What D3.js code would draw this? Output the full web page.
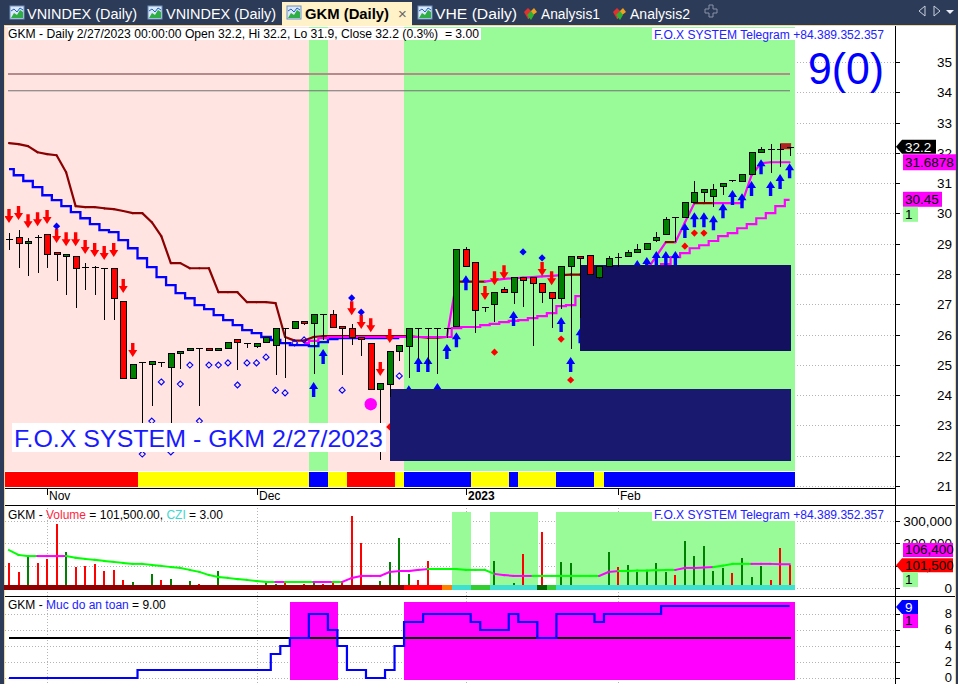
<!DOCTYPE html>
<html>
<head>
<meta charset="utf-8">
<script src="https://cdn.jsdelivr.net/npm/d3@7/dist/d3.min.js"></script>
<style>
html,body{margin:0;padding:0;background:#2c3b58;overflow:hidden;}
svg{display:block;}
text{font-family:"Liberation Sans",Arial,sans-serif;white-space:pre;}
</style>
</head>
<body>
<svg id="chart" width="958" height="684"></svg>
<script>
// ================= DATA =================
const opens = [29.15,29.22,29.02,29.22,29.32,28.73,28.59,28.59,28.23,28.23,
 28.20,28.20,27.11,24.57,25.09,25.03,25.09,24.93,25.39,25.49,
 25.56,25.56,25.49,25.56,25.85,25.72,25.62,25.75,25.66,26.22,
 26.22,26.45,26.38,26.68,26.68,26.28,26.22,25.92,25.72,24.20,
 24.37,25.46,25.62,26.22,26.22,26.22,26.22,26.28,28.82,28.40,
 26.91,27.01,27.50,27.40,27.90,27.90,27.70,27.40,27.21,28.26,
 28.59,28.63,27.90,28.26,28.56,28.59,28.73,28.82,29.12,29.32,
 29.88,29.88,30.38,30.71,30.57,30.90,31.10,31.07,31.30,32.03,
 32.13,32.13,32.20];
const highs = [29.35,29.45,29.19,29.29,29.32,28.73,28.66,28.59,28.36,28.26,
 28.20,28.20,27.11,25.03,25.09,25.13,25.09,25.39,25.46,25.56,
 25.56,25.56,25.56,25.75,25.85,25.72,25.72,25.92,26.22,26.22,
 26.45,26.45,26.68,26.68,26.81,26.28,26.35,25.92,25.72,24.40,
 25.46,25.66,26.22,26.22,26.22,26.22,26.22,28.82,28.89,28.40,
 26.91,27.40,27.57,27.90,27.90,27.90,27.70,27.40,28.26,28.59,
 28.59,28.63,28.26,28.59,28.69,28.80,28.99,29.02,29.39,29.88,
 29.88,30.38,31.07,30.81,30.97,31.00,31.10,31.30,32.03,32.19,
 32.29,32.29,32.20];
const lows = [28.79,28.20,27.93,28.03,28.20,27.77,27.31,26.88,27.47,27.31,
 26.48,26.48,24.57,24.57,22.55,23.64,24.93,22.62,24.86,25.49,
 23.64,25.49,25.49,25.56,24.83,25.56,25.56,25.75,24.66,24.57,
 26.22,26.32,24.70,25.82,26.25,24.66,25.66,25.29,24.20,21.86,
 23.94,25.13,24.57,25.19,24.99,24.70,25.89,26.28,28.26,26.05,
 26.74,26.41,27.40,27.01,26.91,25.62,27.04,26.22,26.84,25.52,
 26.55,28.00,27.83,28.26,28.23,28.59,28.73,28.82,29.05,29.32,
 29.06,29.88,30.38,30.38,30.21,30.61,31.03,31.07,31.30,32.03,
 31.33,31.53,31.90];
const closes = [29.15,29.02,29.09,29.22,28.66,28.66,28.66,28.20,28.23,28.23,
 28.20,27.21,24.57,25.03,25.09,25.13,25.09,25.39,25.46,25.56,
 25.56,25.49,25.56,25.75,25.75,25.72,25.72,25.92,26.22,26.22,
 26.45,26.38,26.68,26.68,26.25,26.22,25.92,25.85,24.20,24.40,
 25.46,25.66,26.22,26.22,26.22,26.22,26.22,28.82,28.26,26.81,
 26.91,27.40,27.40,27.90,27.80,27.70,27.40,27.21,28.26,28.59,
 28.53,28.00,28.26,28.53,28.56,28.73,28.82,29.02,29.22,29.81,
 29.88,30.38,30.71,30.81,30.81,31.00,31.10,31.30,32.03,32.13,
 32.13,32.13,32.20];

// trailing resistance line (dark red / magenta when rising)
const resistLine = [32.32,32.29,32.22,32.02,31.96,31.92,31.36,30.24,30.21,30.21,
 30.17,30.14,30.08,30.01,30.01,29.71,29.25,28.36,28.36,28.19,
 28.19,28.19,27.40,27.40,27.40,27.07,27.07,27.07,27.04,25.92,
 25.80,25.80,25.92,25.95,25.95,25.95,25.95,25.95,25.95,25.95,
 25.95,25.95,25.95,25.92,25.90,25.90,25.92,27.75,27.75,27.75,
 27.75,27.80,27.84,27.86,27.88,27.90,27.92,27.94,27.96,27.98,
 27.98,27.98,27.98,27.98,27.98,27.98,27.98,28.13,28.59,29.05,
 29.05,29.70,30.34,30.34,30.34,30.34,30.34,30.34,31.26,31.66,
 31.69,31.69,31.69];
const resistState = ["0000000000","0000000000","0000000000","0000000000","0000000100",
 "0111111110","0000000111","0110011111","111"].join("").split("").map(Number);

// blue descending step line
const blueLine = [31.46,31.26,31.07,30.87,30.60,30.44,30.24,30.04,29.84,29.65,
 29.45,29.38,29.12,28.85,28.52,28.23,27.90,27.63,27.37,27.20,
 26.97,26.84,26.64,26.48,26.31,26.15,26.05,25.92,25.82,25.72,
 25.65,25.65,25.62,25.75,25.85,25.88,25.88,25.88,25.88,25.88,
 25.88,25.88,null,null,null,null,null,null,null,null,
 null,null,null,null,null,null,null,null,null,null,
 null,null,null,null,null,null,null,null,null,null,
 null,null,null,null,null,null,null,null,null,null,
 null,null,null];

// magenta support step line
const supportLine = [null,null,null,null,null,null,null,null,null,null,
 null,null,null,null,null,null,null,null,null,null,
 null,null,null,null,null,null,null,null,null,null,
 null,25.72,25.79,25.88,25.92,25.92,25.92,25.92,25.92,25.92,
 25.92,25.92,25.92,25.92,25.92,25.92,25.92,26.21,26.25,26.25,
 26.31,26.35,26.41,26.45,26.48,26.54,26.61,26.71,26.94,26.97,
 27.27,27.35,27.45,27.55,27.65,27.75,27.85,27.95,28.10,28.33,
 28.56,28.69,28.85,28.95,29.09,29.25,29.35,29.51,29.65,29.84,
 30.01,30.24,30.45];

// signals: [bar, price]
const sellSignals = [[0,29.68],[1,29.78],[2,29.51],[3,29.58],[4,29.65],[5,29.02],[6,28.92],[7,28.92],
 [8,28.66],[9,28.56],[10,28.46],[11,28.56],[12,27.37],[13,25.26],[36,26.64],[37,26.18],[38,26.08],
 [39,24.63],[40,25.72],[50,27.14],[51,27.63],[52,27.83],[56,27.93],[57,27.63]];
const buySignals = [[32,24.43],[33,25.52],[42,24.33],[43,25.26],[44,25.26],[45,24.40],[46,25.69],
 [47,26.08],[48,27.96],[53,26.78],[58,26.58],[59,25.26],[60,26.21],[66,28.46],[67,28.56],[68,28.76],
 [69,28.76],[70,28.76],[71,29.68],[72,30.04],[73,30.04],[74,29.94],[75,30.34],[76,30.77],[77,30.67],
 [78,31.07],[79,31.79],[80,31.07],[81,31.30],[82,31.66]];
const blueDots = [[5,29.58],[36,27.21],[37,26.74],[54,28.73],[56,28.53]];
const redDots = [[40,22.95],[51,25.42],[58,25.85],[59,24.50],[71,28.92],[72,29.35],[73,29.35]];
const hollowDiamondBars = [14,15,16,17,18,19,20,21,22,23,24,25,26,27,28,29,30,31,35,41];
const bigDot = [[38,23.70]];
const priceZones = [[40,82,24.20,21.83],[60,82,28.29,25.46]];
const levelLines = [34.60,34.05];
const lastMark = [[81,82,32.32,32.12]];

// background states
const trendZone = ["0000000000","0000000000","0000000000","0011000000","0011111111",
 "1111111111","1111111111","1111111111","111"].join("").split("").map(Number);
const signalStrip = ["rrrrrrrrrr","rrrryyyyyy","yyyyyyyyyy","yybbyyrrrr","rybbbbbbby",
 "yyybyyyybb","bbybbbbbbb","bbbbbbbbbb","bbb"].join("").split("");

// volume pane
const volumes = [112000,72000,148000,112000,130000,287000,161000,94000,99000,108000,
 76000,81000,36000,27000,13000,63000,36000,40000,4000,31000,
 18000,13000,76000,13000,13000,4000,13000,31000,18000,27000,
 13000,18000,27000,18000,22000,22000,323000,202000,4000,31000,
 117000,224000,63000,36000,121000,2000,8000,13000,4000,4000,
 2000,121000,9000,22000,152000,9000,251000,4000,117000,112000,
 4000,4000,9000,161000,94000,103000,72000,76000,112000,72000,
 58000,211000,144000,188000,76000,90000,67000,135000,49000,99000,
 36000,179000,101500];
const volUp = ["0010001000","0001010111","0011001110","0010000001","1110000100",
 "0101000011","0011011111","0111110111","000"].join("").split("").map(Number);
const volMA = [170000,148000,143000,143000,143000,143000,143000,135000,130000,126000,
 121000,117000,112000,108000,108000,103000,99000,94000,90000,81000,
 72000,58000,49000,45000,40000,36000,31000,27000,27000,27000,
 27000,27000,27000,27000,27000,27000,45000,54000,54000,54000,
 72000,76000,76000,81000,85000,85000,85000,85000,81000,81000,
 81000,63000,58000,54000,54000,54000,54000,54000,54000,54000,
 54000,54000,54000,72000,76000,76000,78000,78000,80000,81000,
 81000,90000,90000,92000,94000,100000,108000,108000,108000,108000,
 108000,106400,106400];
const volMAState = ["0000111000","0000000000","0000000001","0001101111","1111100000",
 "0011110000","0001100000","0111100001","111"].join("").split("").map(Number);
const volZone = ["0000000000","0000000000","0000000000","0000000000","0000000110",
 "0111110011","1111111111","1111111111","111"].join("").split("").map(Number);
const volStrip = ["dddddddddd","dddddddddd","dddddddddd","dddddddddd","ddrrrroccl",
 "lcccccglcc","cccccccccc","cccccccccc","ccc"].join("").split("");

// safety pane (Muc do an toan)
const safety = ["0000000000","0000111111","1111111134","5588641100","1477888887",
 "6668775588","8878888889","9999999999","999"].join("").split("").map(Number);
const safetyLevel = 5;

// axes
const priceTicks = [21,22,23,24,25,26,27,28,29,30,31,32,33,34,35];
const volTicks = [0,100000,200000,300000];
const safetyTicks = [0,2,4,6,8];
const monthIdx = [4,26,48,64];
const monthLabels = ["Nov","Dec","2023","Feb"];
const tabLabels = ["VNINDEX (Daily)","VNINDEX (Daily)","GKM (Daily)","VHE (Daily)","Analysis1","Analysis2"];

// ================= SCALES =================
const n = opens.length;
const idx = d3.range(n);
const x = d3.scaleLinear().domain([0, n-1]).range([9, 789.6]);
const bw = (x(1)-x(0));
const y = d3.scaleLinear().domain([21,35]).range([486,62]);
const yV = d3.scaleLinear().domain([0,300000]).range([588,521]);
const yS = d3.scaleLinear().domain([0,8]).range([678,614]);
const xc = i => Math.round(x(i));

const svg = d3.select("#chart");

// ================= FRAME + TABS =================
svg.append("rect").attr("width",958).attr("height",684).attr("fill","#2c3b58");
svg.append("rect").attr("x",4).attr("y",25).attr("width",952).attr("height",659).attr("fill","#f2d59c");
svg.append("rect").attr("x",5).attr("y",26).attr("width",950).attr("height",658).attr("fill","#ffffff");

const tabLayout = [{x:10,tx:27,w:110},{x:148,tx:166,w:110},{x:287,tx:305,w:84,active:true},{x:418,tx:435,w:82},
                   {x:522,tx:541,w:59,a:true},{x:611,tx:630,w:60,a:true}];
const tabs = svg.append("g");
tabs.append("rect").attr("x",282).attr("y",2).attr("width",130).attr("height",24).attr("fill","#fff2c9");
tabLabels.forEach((lab,k)=>{
  const L = tabLayout[k];
  if(L.a){
    const g = tabs.append("g").attr("transform",`translate(${L.x},6)`);
    g.append("path").attr("d","M2,6 L6,2 L9,5 L6,13 Z").attr("fill","#e03030");
    g.append("path").attr("d","M6,13 L9,5 L12,2 L15,6 Z").attr("fill","#f0a020");
    g.append("path").attr("d","M5,9 L9,5 L12,9 L9,14 Z").attr("fill","#30b030");
  } else {
    const g = tabs.append("g").attr("transform",`translate(${L.x},6)`);
    g.append("rect").attr("width",14).attr("height",13).attr("fill","#dce8f6").attr("stroke","#6d90c0");
    g.append("path").attr("d","M1,12 L4,7 L7,9 L10,4 L13,6 L13,12 Z").attr("fill","#2fae45");
    g.append("path").attr("d","M1,5 L4,3 L7,6 L10,2 L13,4").attr("fill","none").attr("stroke","#2060d0");
  }
  tabs.append("text").attr("x",L.tx).attr("y",19)
    .attr("font-family",'"Noto Sans","Open Sans",sans-serif')
    .attr("font-size",14).attr("font-weight",L.active?"bold":"normal")
    .attr("fill",L.active?"#000":"#ffffff")
    .attr("textLength",L.w).attr("lengthAdjust","spacingAndGlyphs")
    .text(lab);
});
tabs.append("text").attr("x",398).attr("y",19).attr("font-size",15).attr("fill","#666").text("×");
tabs.append("path").attr("d","M705,9 h4 v-4 h4 v4 h4 v4 h-4 v4 h-4 v-4 h-4 Z").attr("fill","none").attr("stroke","#8a94a8");
tabs.append("path").attr("d","M925,6 L919,11 L925,16 Z").attr("fill","none").attr("stroke","#c8cfdc");
tabs.append("path").attr("d","M934,6 L940,11 L934,16 Z").attr("fill","none").attr("stroke","#c8cfdc");
tabs.append("path").attr("d","M946,10 L954,10 L950,14 Z").attr("fill","#e8ecf2");

// ================= GRIDS =================
const grid = svg.append("g").attr("stroke","#b4b4b4").attr("stroke-dasharray","1,2").attr("shape-rendering","crispEdges");
grid.selectAll(".gp").data(priceTicks).join("line")
  .attr("x1",5).attr("x2",895).attr("y1",d=>Math.round(y(d))+0.5).attr("y2",d=>Math.round(y(d))+0.5);
grid.selectAll(".gv").data(volTicks).join("line")
  .attr("x1",5).attr("x2",895).attr("y1",d=>Math.round(yV(d))+0.5).attr("y2",d=>Math.round(yV(d))+0.5);
grid.selectAll(".gs").data(safetyTicks).join("line")
  .attr("x1",5).attr("x2",895).attr("y1",d=>Math.round(yS(d))+0.5).attr("y2",d=>Math.round(yS(d))+0.5);
grid.selectAll(".gm").data(monthIdx).join("line")
  .attr("x1",d=>xc(d)+0.5).attr("x2",d=>xc(d)+0.5).attr("y1",505).attr("y2",684);

// ================= MAIN PANE =================
svg.append("clipPath").attr("id","mclip").append("rect").attr("x",5).attr("y",27).attr("width",890).attr("height",461);
const main = svg.append("g").attr("clip-path","url(#mclip)");

main.append("g").attr("shape-rendering","crispEdges").selectAll("rect").data(idx).join("rect")
  .attr("x",i=>x(i)-bw/2).attr("width",bw+0.6)
  .attr("y",27).attr("height",444)
  .attr("fill",i=>trendZone[i]?"#98fb98":"#ffe4e1");

const stripColor = {r:"#ff0000",y:"#ffff00",b:"#0000ff"};
main.append("g").attr("shape-rendering","crispEdges").selectAll("rect").data(idx).join("rect")
  .attr("x",i=>x(i)-bw/2).attr("width",bw+0.6)
  .attr("y",472).attr("height",15)
  .attr("fill",i=>stripColor[signalStrip[i]]);

main.selectAll(".lvl").data(levelLines).join("line")
  .attr("x1",8).attr("x2",790).attr("y1",d=>y(d)).attr("y2",d=>y(d))
  .attr("stroke",(d,k)=>k===0?"#b58a8a":"#707070").attr("stroke-width",(d,k)=>k===0?2:1);

// lines
main.append("path").datum(idx)
  .attr("d",d3.line().defined(i=>blueLine[i]!=null).x(i=>x(i)).y(i=>y(blueLine[i])).curve(d3.curveStep))
  .attr("fill","none").attr("stroke","#0000ff").attr("stroke-width",2.3);

main.append("g").selectAll("line").data(d3.range(1,n)).join("line")
  .attr("x1",i=>x(i-1)).attr("x2",i=>x(i))
  .attr("y1",i=>y(resistLine[i-1])).attr("y2",i=>y(resistLine[i]))
  .attr("stroke",i=>resistState[i]?"#ff00ff":"#8b0000").attr("stroke-width",2.2).attr("stroke-linecap","round");

main.append("path").datum(idx)
  .attr("d",d3.line().defined(i=>supportLine[i]!=null).x(i=>x(i)).y(i=>y(supportLine[i])).curve(d3.curveStep))
  .attr("fill","none").attr("stroke","#ff00ff").attr("stroke-width",2.2);

// markers
const downArrow = "M0,0 L-4.5,-7 L-1.7,-7 L-1.7,-14 L1.7,-14 L1.7,-7 L4.5,-7 Z";
const upArrow = "M0,0 L-4.5,7 L-1.7,7 L-1.7,15 L1.7,15 L1.7,7 L4.5,7 Z";
main.append("g").selectAll("path").data(sellSignals).join("path")
  .attr("transform",d=>`translate(${x(d[0])},${y(d[1])})`).attr("d",downArrow).attr("fill","#ff0000");
main.append("g").selectAll("path").data(buySignals).join("path")
  .attr("transform",d=>`translate(${x(d[0])},${y(d[1])})`).attr("d",upArrow).attr("fill","#0000ff");
const diamond = "M0,-3.6 L3.6,0 L0,3.6 L-3.6,0 Z";
main.append("g").selectAll("path").data(blueDots).join("path")
  .attr("transform",d=>`translate(${x(d[0])},${y(d[1])})`).attr("d",diamond).attr("fill","#0000ff");
main.append("g").selectAll("path").data(redDots).join("path")
  .attr("transform",d=>`translate(${x(d[0])},${y(d[1])})`).attr("d",diamond).attr("fill","#ff0000");
main.append("g").selectAll("path").data(hollowDiamondBars).join("path")
  .attr("transform",i=>`translate(${x(i)},${y(lows[i])+15})`).attr("d","M0,-3 L3,0 L0,3 L-3,0 Z")
  .attr("fill","none").attr("stroke","#0000ff").attr("stroke-width",1.1);
main.append("g").selectAll("circle").data(bigDot).join("circle")
  .attr("cx",d=>x(d[0])).attr("cy",d=>y(d[1])).attr("r",6.2).attr("fill","#ff00ff");

// price zones
main.append("g").attr("shape-rendering","crispEdges").selectAll("rect").data(priceZones).join("rect")
  .attr("x",d=>x(d[0])).attr("width",d=>x(d[1])-x(d[0])+1.5)
  .attr("y",d=>y(d[2])).attr("height",d=>y(d[3])-y(d[2]))
  .attr("fill",(d,k)=>k===0?"#191970":"#13105f");

// last bar mark
main.selectAll(".lm").data(lastMark).join("rect")
  .attr("x",d=>x(d[0])).attr("width",d=>x(d[1])-x(d[0])+1.5)
  .attr("y",d=>y(d[2])).attr("height",d=>y(d[3])-y(d[2])).attr("fill","#b22222");

// candles
const cg = main.append("g").attr("shape-rendering","crispEdges");
cg.selectAll(".wick").data(idx).join("line")
  .attr("x1",i=>xc(i)+0.5).attr("x2",i=>xc(i)+0.5)
  .attr("y1",i=>y(highs[i])).attr("y2",i=>y(lows[i]))
  .attr("stroke","#000").attr("stroke-width",1);
const bodyIdx = idx.filter(i=>Math.abs(opens[i]-closes[i])>=0.03);
const dojiIdx = idx.filter(i=>Math.abs(opens[i]-closes[i])<0.03);
cg.selectAll(".body").data(bodyIdx).join("rect")
  .attr("x",i=>xc(i)-2.5).attr("width",6)
  .attr("y",i=>Math.round(y(Math.max(opens[i],closes[i])))+0.5)
  .attr("height",i=>Math.max(1,Math.round(y(Math.min(opens[i],closes[i]))-y(Math.max(opens[i],closes[i])))))
  .attr("fill",i=>closes[i]>opens[i]?"#008000":"#ff0000")
  .attr("stroke","#000").attr("stroke-width",1);
cg.selectAll(".doji").data(dojiIdx).join("line")
  .attr("x1",i=>xc(i)-3).attr("x2",i=>xc(i)+4)
  .attr("y1",i=>Math.round(y(opens[i]))+0.5).attr("y2",i=>Math.round(y(opens[i]))+0.5)
  .attr("stroke","#000").attr("stroke-width",1);

// overlay texts main
svg.append("rect").attr("x",8).attr("y",28).attr("width",473).attr("height",12).attr("fill","#fff");
svg.append("text").attr("x",8).attr("y",38).attr("font-size",12).attr("fill","#000")
  .attr("textLength",471).attr("lengthAdjust","spacingAndGlyphs")
  .text("GKM - Daily 2/27/2023 00:00:00 Open 32.2, Hi 32.2, Lo 31.9, Close 32.2 (0.3%)  = 3.00");
svg.append("rect").attr("x",652).attr("y",28).attr("width",234).attr("height",12).attr("fill","#fff");
svg.append("text").attr("x",654).attr("y",38.5).attr("font-size",12.5).attr("fill","#2222ff")
  .attr("textLength",230).attr("lengthAdjust","spacingAndGlyphs")
  .text("F.O.X SYSTEM Telegram +84.389.352.357");
svg.append("text").attr("x",808).attr("y",84).attr("font-size",44).attr("fill","#0000ff")
  .attr("textLength",76).attr("lengthAdjust","spacingAndGlyphs").text("9(0)");
svg.append("rect").attr("x",12).attr("y",423).attr("width",374).attr("height",29).attr("fill","#fff");
svg.append("text").attr("x",14).attr("y",447).attr("font-size",24.5).attr("fill","#1a1aff")
  .attr("textLength",369).attr("lengthAdjust","spacingAndGlyphs").text("F.O.X SYSTEM - GKM 2/27/2023");

// ================= AXES / FRAMES =================
const ax = svg.append("g").attr("shape-rendering","crispEdges");
ax.append("line").attr("x1",5).attr("x2",895).attr("y1",488.5).attr("y2",488.5).attr("stroke","#000").attr("stroke-width",1.5);
ax.append("line").attr("x1",5).attr("x2",955).attr("y1",505.5).attr("y2",505.5).attr("stroke","#000").attr("stroke-width",1.5);
ax.append("line").attr("x1",5).attr("x2",955).attr("y1",596.5).attr("y2",596.5).attr("stroke","#000").attr("stroke-width",1.5);
ax.append("line").attr("x1",895.5).attr("x2",895.5).attr("y1",26).attr("y2",684).attr("stroke","#000");
ax.selectAll(".mt").data(monthIdx).join("line")
  .attr("x1",d=>xc(d)+0.5).attr("x2",d=>xc(d)+0.5).attr("y1",489).attr("y2",495).attr("stroke","#000");
svg.selectAll(".ml").data(monthIdx).join("text")
  .attr("x",d=>xc(d)+2).attr("y",500).attr("font-size",12)
  .attr("font-weight",(d,k)=>monthLabels[k]==="2023"?"bold":"normal")
  .text((d,k)=>monthLabels[k]);

// price axis
ax.selectAll(".pt").data(priceTicks).join("line")
  .attr("x1",895).attr("x2",900).attr("y1",d=>Math.round(y(d))+0.5).attr("y2",d=>Math.round(y(d))+0.5).attr("stroke","#000");
svg.selectAll(".pl").data(priceTicks).join("text")
  .attr("x",952).attr("y",d=>y(d)+5).attr("text-anchor","end").attr("font-size",13.5).text(d=>d);

// ================= VOLUME PANE =================
const vp = svg.append("g");
vp.append("g").attr("shape-rendering","crispEdges").selectAll("rect").data(idx.filter(i=>volZone[i])).join("rect")
  .attr("x",i=>x(i)-bw/2).attr("width",bw+0.6).attr("y",512).attr("height",74).attr("fill","#98fb98");
vp.append("g").attr("shape-rendering","crispEdges").selectAll("rect").data(idx).join("rect")
  .attr("x",i=>xc(i)-1).attr("width",2.2)
  .attr("y",i=>yV(volumes[i])).attr("height",i=>yV(0)-yV(volumes[i]))
  .attr("fill",i=>volUp[i]?"#008000":"#ff0000");
vp.append("g").selectAll("line").data(d3.range(1,n)).join("line")
  .attr("x1",i=>x(i-1)).attr("x2",i=>x(i))
  .attr("y1",i=>yV(volMA[i-1])).attr("y2",i=>yV(volMA[i]))
  .attr("stroke",i=>volMAState[i]?"#ff00ff":"#00ff00").attr("stroke-width",2).attr("stroke-linecap","square");
const vsColor = {d:"#8b0000",r:"#ff0000",o:"#ff7f00",c:"#40e0d0",l:"#32cd32",g:"#006400"};
vp.append("g").attr("shape-rendering","crispEdges").selectAll("rect").data(idx).join("rect")
  .attr("x",i=>x(i)-bw/2).attr("width",bw+0.6).attr("y",585).attr("height",5)
  .attr("fill",i=>vsColor[volStrip[i]]);
vp.append("rect").attr("x",652).attr("y",508).attr("width",234).attr("height",13).attr("fill","#fff");
vp.append("text").attr("x",654).attr("y",519).attr("font-size",12.5).attr("fill","#2222ff")
  .attr("textLength",230).attr("lengthAdjust","spacingAndGlyphs")
  .text("F.O.X SYSTEM Telegram +84.389.352.357");
const vt = vp.append("text").attr("x",8).attr("y",519).attr("font-size",12);
vt.append("tspan").attr("fill","#000").text("GKM - ");
vt.append("tspan").attr("fill","#ff1f3f").text("Volume");
vt.append("tspan").attr("fill","#000").text(" = 101,500.00, ");
vt.append("tspan").attr("fill","#40d8d0").text("CZI");
vt.append("tspan").attr("fill","#000").text(" = 3.00");
ax.selectAll(".vt").data(volTicks).join("line")
  .attr("x1",895).attr("x2",900).attr("y1",d=>Math.round(yV(d))+0.5).attr("y2",d=>Math.round(yV(d))+0.5).attr("stroke","#000");
svg.selectAll(".vl").data(volTicks).join("text")
  .attr("x",952).attr("y",d=>yV(d)+5).attr("text-anchor","end").attr("font-size",13.5).text(d=>d3.format(",")(d));

// ================= SAFETY PANE =================
const sp = svg.append("g");
sp.append("g").attr("shape-rendering","crispEdges").selectAll("rect").data(idx.filter(i=>safety[i]>=safetyLevel)).join("rect")
  .attr("x",i=>x(i)-bw/2).attr("width",bw+0.6).attr("y",yS(9.5)).attr("height",yS(-0.25)-yS(9.5)).attr("fill","#ff00ff");
sp.append("line").attr("x1",9).attr("x2",791).attr("y1",yS(safetyLevel)).attr("y2",yS(safetyLevel))
  .attr("stroke","#000").attr("stroke-width",2);
sp.append("path").datum(idx)
  .attr("d",d3.line().x(i=>x(i)).y(i=>yS(safety[i])).curve(d3.curveStep))
  .attr("fill","none").attr("stroke","#0000ff").attr("stroke-width",2.2);
const st = sp.append("text").attr("x",8).attr("y",609).attr("font-size",12);
st.append("tspan").attr("fill","#000").text("GKM - ");
st.append("tspan").attr("fill","#2222ff").text("Muc do an toan");
st.append("tspan").attr("fill","#000").text(" = 9.00");
ax.selectAll(".st").data(safetyTicks).join("line")
  .attr("x1",895).attr("x2",900).attr("y1",d=>Math.round(yS(d))+0.5).attr("y2",d=>Math.round(yS(d))+0.5).attr("stroke","#000");
svg.selectAll(".sl").data(safetyTicks).join("text")
  .attr("x",952).attr("y",d=>yS(d)+4).attr("text-anchor","end").attr("font-size",13).text(d=>d);

// ================= VALUE LABELS ON AXES =================
function arrowBox(g, yc, w, fill, txt, tfill){
  g.append("path").attr("d",`M896,${yc} L902,${yc-7} L${902+w},${yc-7} L${902+w},${yc+7} L902,${yc+7} Z`).attr("fill",fill);
  g.append("text").attr("x",905).attr("y",yc+5).attr("font-size",13.5).attr("fill",tfill).text(txt);
}
function box(g, yTop, w, h, fill, txt, tfill){
  g.append("rect").attr("x",903).attr("y",yTop).attr("width",w).attr("height",h).attr("fill",fill);
  g.append("text").attr("x",905).attr("y",yTop+h-3).attr("font-size",13.5).attr("fill",tfill).text(txt);
}
const lb = svg.append("g");
const lastClose = closes[n-1];
arrowBox(lb, y(lastClose), 34, "#000", String(lastClose), "#fff");
box(lb, y(resistLine[n-1])-8, 53, 16, "#ff00ff", "31.6878", "#000");
box(lb, y(supportLine[n-1])-8, 39, 15, "#ff00ff", String(supportLine[n-1]), "#000");
box(lb, y(supportLine[n-1])+7, 15, 15, "#98fb98", "1", "#000");
box(lb, 543, 50, 14, "#ff00ff", d3.format(",")(volMA[n-1]), "#000");
arrowBox(lb, yV(volumes[n-1]), 51, "#ff0000", d3.format(",")(volumes[n-1]), "#000");
box(lb, 572, 15, 15, "#98fb98", "1", "#000");
arrowBox(lb, yS(safety[n-1])+1, 16, "#0000ff", String(safety[n-1]), "#fff");
box(lb, yS(safety[n-1])+8, 15, 14, "#ff00ff", "1", "#000");
</script>
</body>
</html>
